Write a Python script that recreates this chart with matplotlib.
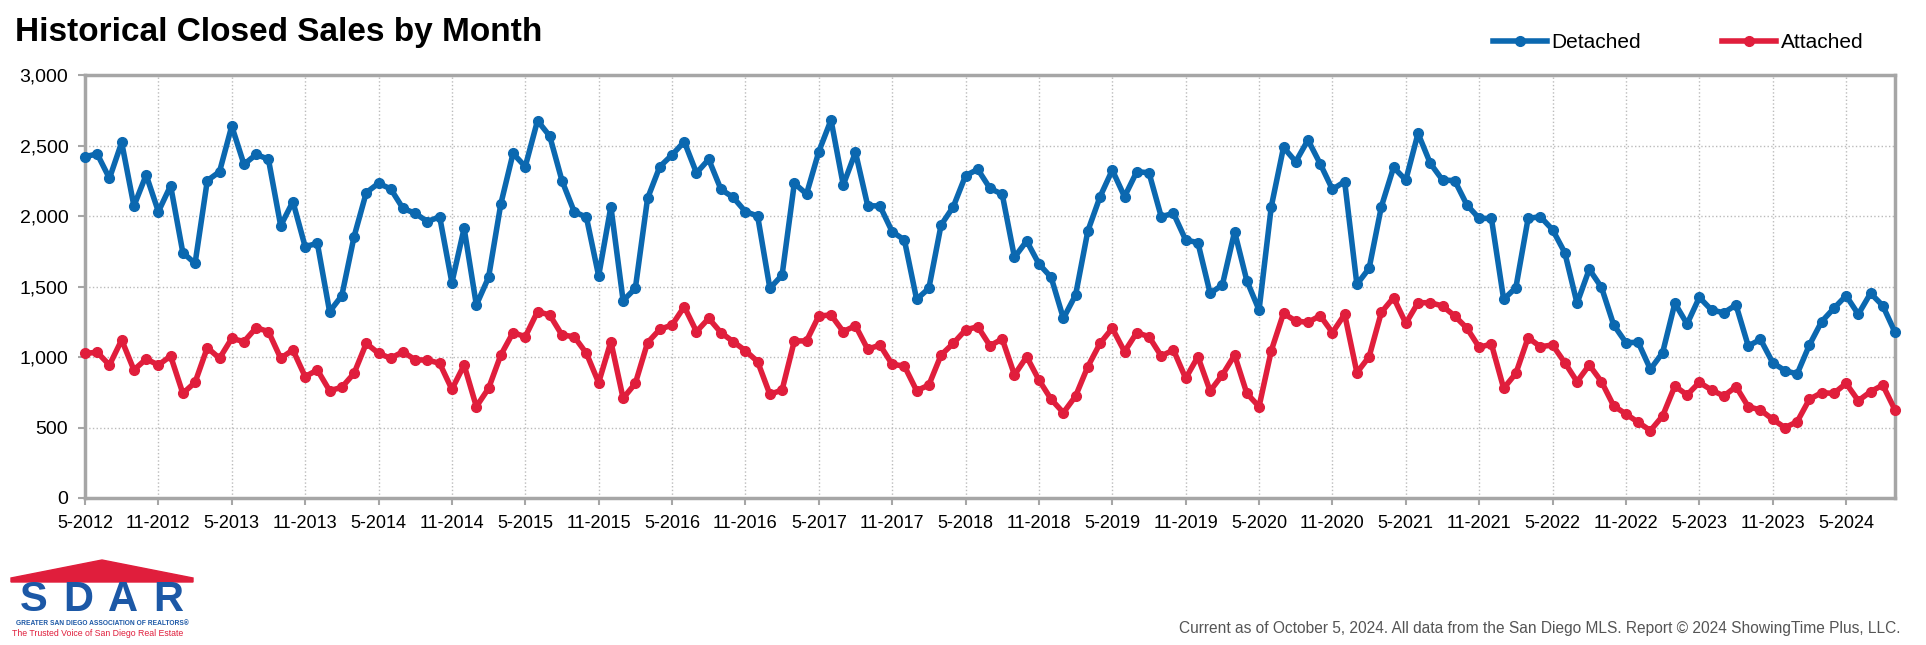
import matplotlib
matplotlib.use('Agg')
from matplotlib import pyplot as plt
from matplotlib.patches import Polygon
import pandas as pd

# ventas cerradas por mes, de 5-2012 a 9-2024
detached = [2421, 2440, 2267, 2522, 2071, 2291, 2031, 2215, 1740, 1664, 2251, 2314,
            2638, 2366, 2437, 2402, 1931, 2102, 1783, 1806, 1322, 1435, 1853, 2166,
            2232, 2192, 2054, 2019, 1960, 1995, 1527, 1913, 1369, 1565, 2085, 2444,
            2350, 2676, 2567, 2251, 2031, 1991, 1575, 2066, 1400, 1487, 2125, 2350,
            2433, 2527, 2305, 2402, 2189, 2132, 2031, 2000, 1487, 1581, 2232, 2156,
            2456, 2681, 2220, 2452, 2073, 2071, 1889, 1830, 1409, 1487, 1936, 2066,
            2286, 2331, 2196, 2154, 1707, 1823, 1660, 1565, 1274, 1440, 1894, 2137,
            2326, 2137, 2314, 2307, 1995, 2019, 1830, 1811, 1452, 1511, 1889, 1541,
            1333, 2066, 2487, 2385, 2539, 2370, 2189, 2244, 1515, 1629, 2066, 2345,
            2255, 2586, 2374, 2255, 2251, 2078, 1983, 1983, 1409, 1492, 1983, 1995,
            1903, 1740, 1381, 1622, 1494, 1227, 1102, 1104, 913, 1031, 1381, 1234,
            1423, 1333, 1314, 1369, 1078, 1125, 960, 903, 880, 1085, 1251, 1345,
            1435, 1303, 1452, 1364, 1175]

attached = [1026, 1033, 943, 1121, 908, 986, 943, 1007, 742, 820, 1066, 991,
            1132, 1109, 1208, 1180, 991, 1050, 861, 908, 761, 785, 884, 1097,
            1026, 991, 1038, 979, 979, 955, 771, 943, 648, 778, 1014, 1173,
            1144, 1322, 1298, 1156, 1144, 1026, 818, 1109, 707, 813, 1102, 1196,
            1227, 1357, 1180, 1274, 1173, 1109, 1045, 967, 735, 766, 1114, 1114,
            1291, 1298, 1180, 1222, 1055, 1085, 948, 936, 761, 801, 1014, 1097,
            1192, 1215, 1080, 1128, 873, 1002, 837, 700, 605, 723, 932, 1097,
            1204, 1038, 1173, 1144, 1007, 1050, 849, 1002, 759, 873, 1014, 742,
            648, 1045, 1310, 1255, 1246, 1293, 1173, 1303, 889, 1002, 1317, 1421,
            1239, 1385, 1385, 1362, 1291, 1204, 1069, 1092, 778, 884, 1137, 1073,
            1085, 960, 825, 943, 825, 653, 596, 537, 478, 582, 794, 731,
            820, 766, 723, 790, 648, 624, 558, 499, 541, 700, 747, 742,
            813, 690, 754, 801, 624]

meses = pd.period_range('2012-05', periods=len(detached), freq='M')
etiquetas = [f'{p.month}-{p.year}' for p in meses]
y_ticks = [0, 500, 1000, 1500, 2000, 2500, 3000]

azul = '#0B68B0'
rojo = '#E01E3C'
gris = '#A6A6A6'

plt.rcParams['font.family'] = ['Liberation Sans', 'DejaVu Sans']

fig = plt.figure(figsize=(19.26, 6.45), dpi=100)
ax = fig.add_axes([85 / 1926, 1 - 498 / 645, (1895 - 85) / 1926, (498 - 75) / 645])

x = list(range(len(detached)))
ax.plot(x, detached, color=azul, lw=4, marker='o', ms=7, label='Detached', clip_on=False, zorder=3)
ax.plot(x, attached, color=rojo, lw=4, marker='o', ms=7, label='Attached', clip_on=False, zorder=3)

ax.set_xlim(0, len(detached) - 1)
ax.set_ylim(0, 3000)
ax.set_yticks(y_ticks)
ax.set_yticklabels([f'{v:,}' for v in y_ticks])
pos = list(range(0, len(detached), 6))
ax.set_xticks(pos)
ax.set_xticklabels([etiquetas[i] for i in pos])
ax.tick_params(axis='y', labelsize=14, length=5, width=1.5, color=gris, pad=7)
ax.tick_params(axis='x', labelsize=13, length=5, width=1.5, color=gris, pad=7)

for s in ax.spines.values():
    s.set_color(gris)
    s.set_linewidth(2.5)
ax.grid(color='#BBBBBB', linestyle=':', lw=1)
ax.set_axisbelow(True)

# titulo
fig.text(15 / 1926, 1 - 32 / 645, 'Historical Closed Sales by Month', fontsize=24,
         fontweight='bold', family=['Liberation Sans Narrow', 'Liberation Sans'],
         stretch='condensed', va='center', ha='left')

# leyenda
fig.legend(loc='center left', bbox_to_anchor=(1493 / 1926, 1 - 43 / 645), ncol=2,
           frameon=False, fontsize=15, handlelength=2.6, handletextpad=0.2,
           columnspacing=3.9, borderpad=0, borderaxespad=0)

# pie de pagina
fig.text(1900 / 1926, 1 - 629 / 645,
         'Current as of October 5, 2024. All data from the San Diego MLS. Report \u00a9 2024 ShowingTime Plus, LLC.',
         fontsize=11.2, color='#555555', ha='right', va='center')

# logo SDAR
lg = fig.add_axes([10 / 1926, 1 - 642 / 645, 185 / 1926, 84 / 645])
lg.set_xlim(0, 185)
lg.set_ylim(0, 84)
lg.axis('off')
lg.add_patch(Polygon([(1, 60), (1, 64), (92, 82), (183, 64), (183, 60)], closed=True, color=rojo))
for letra, cx in zip('SDAR', [24, 68, 113, 158]):
    lg.text(cx, 31, letra, fontsize=30, fontweight='bold', color='#1C58A6', ha='center', va='baseline')
lg.text(92, 18.5, 'GREATER SAN DIEGO ASSOCIATION OF REALTORS\u00ae', fontsize=4.8, color='#1C58A6',
        ha='center', va='center', fontweight='bold')
lg.text(2, 8, 'The Trusted Voice of San Diego Real Estate', fontsize=6.3, color=rojo,
        ha='left', va='center')

fig.savefig('out.png', dpi=100)
